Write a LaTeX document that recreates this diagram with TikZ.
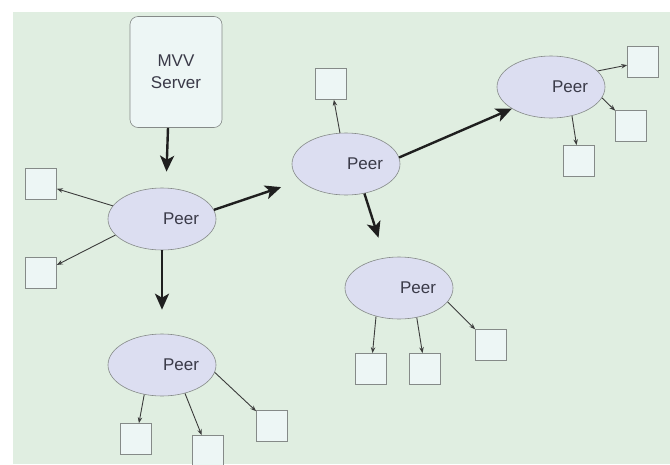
\documentclass[tikz,border=0pt]{standalone}
\usepackage{fontspec}
\setmainfont{Liberation Sans}
\usetikzlibrary{arrows.meta,shapes.geometric}

\definecolor{bggreen}{HTML}{E0EEE1}
\definecolor{peerblue}{HTML}{DCDEF1}
\definecolor{boxcyan}{HTML}{EDF6F5}
\definecolor{rimgrey}{HTML}{858A88}
\definecolor{inkgrey}{HTML}{3A3A48}
\definecolor{wiregrey}{HTML}{3C3C3C}

\begin{document}
\begin{tikzpicture}[
                                x = 1pt, y = -1pt,
                                > = stealth,
                                semithick
                                ]

                                \tikzstyle{peer}=[
                                        draw = rimgrey,
                                        ellipse,
                                        fill = peerblue,
                                        inner sep = 0pt,
                                        minimum width = 108pt,
                                        minimum height = 62pt,
                                        text = inkgrey,
                                        font = \fontsize{17}{20}\selectfont
                                ]

                                \tikzstyle{item}=[
                                        draw = rimgrey,
                                        rectangle,
                                        fill = boxcyan,
                                        minimum size = 31pt
                                ]

                                \tikzstyle{server}=[
                                        draw = rimgrey,
                                        rectangle,
                                        rounded corners = 8pt,
                                        fill = boxcyan,
                                        minimum width = 92pt,
                                        minimum height = 111pt,
                                        align = center,
                                        text = inkgrey,
                                        font = \fontsize{17}{22}\selectfont
                                ]

                                \tikzstyle{link}=[
                                        draw = wiregrey,
                                        line width = 0.9pt,
                                        -{Stealth[length=6pt,width=4.5pt]}
                                ]

                                \tikzstyle{flow}=[
                                        draw = black!88,
                                        line width = 2.4pt,
                                        -{Stealth[length=16pt,width=14pt,inset=4pt]}
                                ]

                                \useasboundingbox (0,0) rectangle (670,464);
                                \fill[white] (0,0) rectangle (670,464);
                                \fill[bggreen] (13,12) rectangle (670,464);

                                \node[server] (s) at (176,72) {MVV\\Server};

                                \node[peer] (1) at (162,219) {\hspace*{38pt}Peer};
                                \node[peer] (2) at (346,164) {\hspace*{38pt}Peer};
                                \node[peer] (3) at (162,365) {\hspace*{38pt}Peer};
                                \node[peer] (4) at (551,87) {\hspace*{38pt}Peer};
                                \node[peer] (5) at (399,288) {\hspace*{38pt}Peer};

                                \node[item] (1a) at (41,184) {};
                                \node[item] (1b) at (41,273) {};
                                \node[item] (2a) at (331,84) {};
                                \node[item] (3a) at (136,439) {};
                                \node[item] (3b) at (208,451) {};
                                \node[item] (3c) at (272,426) {};
                                \node[item] (4a) at (643,62) {};
                                \node[item] (4b) at (631,126) {};
                                \node[item] (4c) at (579,161) {};
                                \node[item] (5a) at (371,369) {};
                                \node[item] (5b) at (425,369) {};
                                \node[item] (5c) at (491,345) {};

                                \draw[flow, shorten > = 16pt] ([xshift=-8pt]s.south) -- ([xshift=4pt]1.north);
                                \draw[flow, shorten > = 24pt] (1) -- (3);
                                \draw[flow, shorten > = 20pt] (1.10) -- (2.200);
                                \draw[flow] (2.7) -- (4.209);
                                \draw[flow, shorten > = 21pt] (2.302) -- (5.115);

                                \draw[link] (1.165) -- (1a);
                                \draw[link] (1.199) -- (1b);
                                \draw[link] (2.101) -- (2a);
                                \draw[link] (3.239) -- (3a);
                                \draw[link] (3.309) -- (3b);
                                \draw[link] (3.352) -- (3c);
                                \draw[link] (4.19) -- (4a);
                                \draw[link] (4.348) -- (4b);
                                \draw[link] (4.306) -- (4c);
                                \draw[link] (5.231) -- (5a);
                                \draw[link] (5.301) -- (5b);
                                \draw[link] (5.344) -- (5c);
\end{tikzpicture}
\end{document}
